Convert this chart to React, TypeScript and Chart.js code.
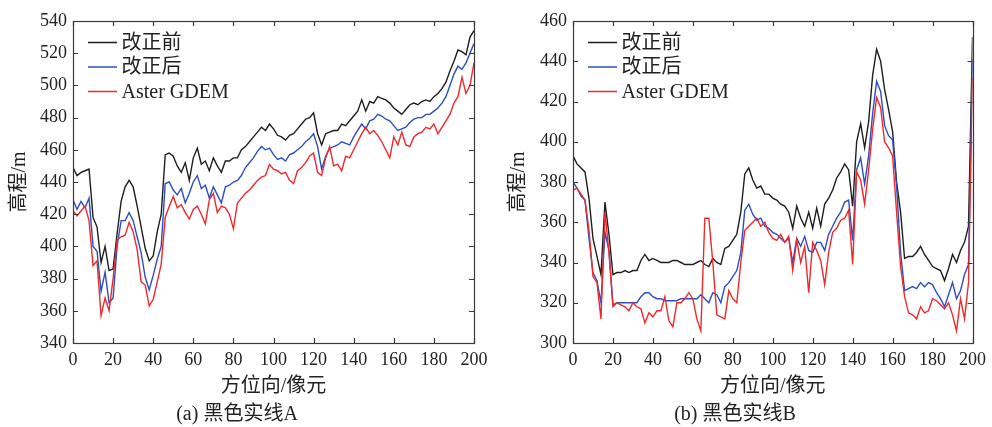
import React, { useEffect, useRef } from 'react';
import { Chart, registerables } from 'chart.js';

Chart.register(...registerables);

// ---------- data ----------
const positions = [
  0, 2, 4, 6, 8, 10, 12, 14, 16, 18,
  20, 22, 24, 26, 28, 30, 32, 34, 36, 38,
  40, 42, 44, 46, 48, 50, 52, 54, 56, 58,
  60, 62, 64, 66, 68, 70, 72, 74, 76, 78,
  80, 82, 84, 86, 88, 90, 92, 94, 96, 98,
  100, 102, 104, 106, 108, 110, 112, 114, 116, 118,
  120, 122, 124, 126, 128, 130, 132, 134, 136, 138,
  140, 142, 144, 146, 148, 150, 152, 154, 156, 158,
  160, 162, 164, 166, 168, 170, 172, 174, 176, 178,
  180, 182, 184, 186, 188, 190, 192, 194, 196, 198,
  200,
];

const seriesNames = ['改正前', '改正后', 'Aster GDEM'];

// (a) 黑色实线A
const lineABefore = [
  449, 444, 446, 447, 448, 418, 412, 390, 400, 385,
  386, 408, 428, 437, 441, 437, 425, 412, 399, 391,
  394, 409, 420, 457, 458, 456, 450, 446, 452, 441,
  455, 461, 451, 453, 447, 455, 450, 446, 453, 453,
  455, 455, 460, 462, 465, 468, 471, 474, 472, 476,
  473, 469, 468, 466, 469, 470, 473, 476, 479, 480,
  483, 470, 463, 470, 471, 472, 472, 476, 475, 478,
  481, 484, 491, 484, 490, 489, 493, 492, 491, 489,
  486, 484, 482, 485, 488, 489, 488, 490, 491, 490,
  493, 495, 498, 502, 509, 515, 522, 521, 519, 530,
  534,
];
const lineAAfter = [
  429, 423, 428, 424, 430, 400, 397, 372, 384, 365,
  368, 400, 416, 416, 421, 416, 406, 396, 381, 373,
  382, 392, 400, 439, 440, 435, 432, 436, 427, 433,
  440, 444, 436, 438, 430, 437, 432, 427, 437, 438,
  440, 441, 444, 449, 452, 455, 459, 462, 460, 461,
  457, 454, 455, 453, 457, 458, 460, 462, 465, 467,
  470, 462, 448, 456, 461, 462, 463, 465, 464, 463,
  468, 472, 476, 473, 478, 479, 482, 481, 479, 478,
  475, 472, 473, 474, 477, 479, 480, 480, 482, 482,
  484, 486, 489, 493, 500, 507, 512, 510, 514, 520,
  526,
];
const lineAAster = [
  422, 419, 422, 425, 416, 388, 391, 357, 368, 360,
  380, 404, 406, 407, 415, 409, 398, 378, 376, 363,
  367, 378, 389, 418, 425, 431, 424, 426, 421, 417,
  423, 425, 420, 414, 429, 433, 421, 425, 424, 420,
  411, 427, 430, 433, 435, 438, 441, 443, 444, 451,
  448, 447, 445, 446, 441, 439, 447, 449, 452, 456,
  458, 446, 444, 455, 462, 450, 451, 447, 456, 455,
  460, 465, 470, 474, 470, 472, 469, 465, 460, 455,
  468, 463, 471, 463, 462, 468, 470, 471, 474, 473,
  476, 470, 474, 478, 482, 489, 493, 505, 495, 500,
  514,
];

// (b) 黑色实线B
const lineBBefore = [
  393, 389, 387, 385, 372, 352, 343, 334, 370, 354,
  334, 335, 335, 336, 335, 336, 336, 341, 344, 341,
  342, 341, 340, 340, 340, 341, 341, 340, 339, 339,
  339, 340, 341, 339, 338, 342, 340, 339, 347, 348,
  351, 354, 365, 384, 387, 381, 377, 378, 374, 374,
  372, 371, 369, 368, 365, 357, 368, 362, 358, 365,
  357, 367, 358, 369, 372, 376, 382, 385, 389, 386,
  368, 400, 409, 397, 410, 433, 446, 440, 426, 416,
  405, 380, 365, 342, 343, 343, 345, 348, 344, 341,
  338, 337, 336, 331, 337, 344, 340, 346, 350, 358,
  452,
];
const lineBAfter = [
  380, 377, 373, 371, 352, 335, 331, 320, 355, 346,
  319, 320, 320, 320, 320, 320, 320, 323, 325, 325,
  323, 322, 322, 321, 321, 321, 321, 322, 322, 322,
  322, 322, 324, 322, 320, 325, 324, 320, 328, 330,
  333, 336, 345, 366, 369, 364, 361, 362, 358, 357,
  355, 354, 352, 350, 352, 340, 352, 348, 353, 346,
  345, 350, 350, 346, 354, 358, 362, 365, 370, 371,
  351, 386, 392, 379, 393, 414, 430, 425, 408, 403,
  401, 378, 345, 326, 327, 328, 327, 330, 328, 330,
  329, 325, 322, 318, 324, 330, 322, 326, 334, 339,
  441,
];
const lineBAster = [
  376, 377, 374, 371, 356, 333, 330, 312, 365, 345,
  318, 320, 319, 318, 316, 320, 318, 317, 310, 315,
  313, 316, 316, 323, 311, 308, 320, 320, 322, 325,
  322, 312, 306, 362, 362, 340, 314, 313, 312, 326,
  322, 320, 340, 356, 358, 360, 362, 358, 360, 355,
  352, 351, 354, 350, 353, 336, 351, 340, 348, 325,
  350, 346, 341, 329, 345, 355, 357, 361, 362, 366,
  339, 385, 381, 369, 386, 406, 422, 417, 400, 397,
  393, 365, 338, 323, 315, 314, 312, 318, 315, 316,
  322, 321, 319, 317, 320, 314, 306, 322, 312, 330,
  432,
];

const xRange = [0, 200];
const xStep = 20;
const yRangeA = [340, 540];
const yRangeB = [300, 460];
const yStep = 20;

// ---------- styling ----------
const FONT = '"Liberation Serif", "Times New Roman", "Noto Sans CJK SC", serif';
const colors = ['#1e1e1e', '#2b4fc0', '#f0282a'];
const drawOrder = [2, 1, 0];

const framePlugin = {
  id: 'frameTicks',
  afterDatasetsDraw(chart: any) {
    const { ctx, chartArea, scales } = chart;
    const { left, right, top, bottom } = chartArea;
    const tl = 5;
    ctx.save();
    ctx.strokeStyle = '#3a3a3a';
    ctx.lineWidth = 1.2;
    ctx.beginPath();
    scales.x.ticks.forEach((t: any) => {
      const px = Math.round(scales.x.getPixelForValue(t.value)) + 0.5;
      ctx.moveTo(px, bottom);
      ctx.lineTo(px, bottom - tl);
      ctx.moveTo(px, top);
      ctx.lineTo(px, top + tl);
    });
    scales.y.ticks.forEach((t: any) => {
      const py = Math.round(scales.y.getPixelForValue(t.value)) + 0.5;
      ctx.moveTo(left, py);
      ctx.lineTo(left + tl, py);
      ctx.moveTo(right, py);
      ctx.lineTo(right - tl, py);
    });
    ctx.stroke();
    ctx.strokeRect(Math.round(left) + 0.5, Math.round(top) + 0.5, Math.round(right - left), Math.round(bottom - top));
    ctx.restore();
  },
  afterDraw(chart: any) {
    const { ctx, chartArea } = chart;
    const { left, top } = chartArea;
    ctx.save();
    ctx.font = '20px ' + FONT;
    ctx.textBaseline = 'middle';
    ctx.fillStyle = '#222';
    chart.data.datasets.forEach((ds: any, i: number) => {
      const y = top + 21.5 + i * 24.5;
      ctx.strokeStyle = ds.borderColor;
      ctx.lineWidth = 1.5;
      ctx.beginPath();
      ctx.moveTo(left + 15, y);
      ctx.lineTo(left + 44, y);
      ctx.stroke();
      ctx.fillText(ds.label, left + 48.5, y + 1);
    });
    ctx.restore();
  },
};

type PanelProps = {
  width: number;
  plotLeft: number;
  padRight: number;
  yTitlePad: number;
  yRange: number[];
  caption: string;
  series: number[][];
};

function Panel({ width, plotLeft, padRight, yTitlePad, yRange, caption, series }: PanelProps) {
  const ref = useRef<HTMLCanvasElement>(null);
  useEffect(() => {
    const chart = new Chart(ref.current as HTMLCanvasElement, {
      type: 'line',
      data: {
        datasets: series.map((vals, i) => ({
          label: seriesNames[i],
          data: positions.map((x, j) => ({ x, y: vals[j] })),
          borderColor: colors[i],
          backgroundColor: colors[i],
          borderWidth: 1.4,
          pointRadius: 0,
          tension: 0,
          fill: false,
          order: drawOrder[i],
        })),
      },
      options: {
        responsive: false,
        animation: false,
        devicePixelRatio: 1,
        layout: { padding: { left: 0, right: padRight, top: 21, bottom: 0 } },
        plugins: {
          legend: { display: false },
          tooltip: { enabled: false },
          title: {
            display: true,
            text: caption,
            position: 'bottom',
            color: '#222',
            font: { family: FONT, size: 20, weight: 'normal' },
            padding: { top: 4, bottom: 0 },
          },
        },
        scales: {
          x: {
            type: 'linear',
            min: xRange[0],
            max: xRange[1],
            grid: { display: false, drawTicks: false },
            border: { display: false },
            ticks: {
              stepSize: xStep,
              padding: 6,
              color: '#222',
              maxRotation: 0,
              autoSkip: false,
              font: { family: FONT, size: 18 },
            },
            title: {
              display: true,
              text: '方位向/像元',
              color: '#222',
              font: { family: FONT, size: 20 },
              padding: { top: 0, bottom: 0 },
            },
            afterFit: (s: any) => {
              s.height = 56;
            },
          },
          y: {
            type: 'linear',
            min: yRange[0],
            max: yRange[1],
            grid: { display: false, drawTicks: false },
            border: { display: false },
            ticks: {
              stepSize: yStep,
              padding: 6,
              color: '#222',
              font: { family: FONT, size: 18 },
            },
            title: {
              display: true,
              text: '高程/m',
              color: '#222',
              font: { family: FONT, size: 20 },
              padding: { top: yTitlePad, bottom: 0 },
            },
            afterFit: (s: any) => {
              s.width = plotLeft;
            },
          },
        },
      } as any,
      plugins: [framePlugin],
    });
    return () => chart.destroy();
  }, []);
  return (
    <canvas
      ref={ref}
      width={width}
      height={427}
      style={{ display: 'block', width: width + 'px', height: '427px' }}
    />
  );
}

export default function App() {
  useEffect(() => {
    document.body.style.margin = '0';
    document.body.style.background = '#fff';
  }, []);
  return (
    <div style={{ display: 'flex', width: 992, height: 427, background: '#fff' }}>
      <Panel
        width={496}
        plotLeft={73}
        padRight={22}
        yTitlePad={8}
        yRange={yRangeA}
        caption="(a) 黑色实线A"
        series={[lineABefore, lineAAfter, lineAAster]}
      />
      <Panel
        width={496}
        plotLeft={77}
        padRight={18}
        yTitlePad={11}
        yRange={yRangeB}
        caption="(b) 黑色实线B"
        series={[lineBBefore, lineBAfter, lineBAster]}
      />
    </div>
  );
}
